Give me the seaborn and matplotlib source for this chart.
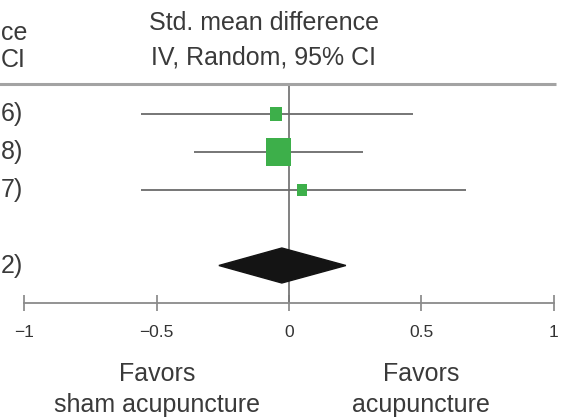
import matplotlib
matplotlib.use("Agg")
import matplotlib.pyplot as plt
import seaborn as sns
import pandas as pd

# Данные
study_tail = ["6)", "8)", "7)"]          # обрезанные подписи слева
smd = [-0.05, -0.04, 0.05]
ci_low = [-0.56, -0.36, -0.56]
ci_high = [0.47, 0.28, 0.67]
weight = [17.5, 70.0, 12.5]

total_tail = "2)"
total_smd = -0.027
total_low = -0.265
total_high = 0.215

tick_values = [-1, -0.5, 0, 0.5, 1]
tick_labels = ["\u22121", "\u22120.5", "0", "0.5", "1"]

# раскладка: ось y в пикселях сверху вниз
row_y = [114, 152, 190]
total_y = 265.5
axis_y = 303
header_y = 84

sns.set_theme(style="white")
plt.rcParams["font.family"] = ["Liberation Sans", "DejaVu Sans"]

fig = plt.figure(figsize=(5.63, 4.18), dpi=100)
ax = fig.add_axes([0, 0, 1, 1])
ax.set_xlim(-1.0926, 1.0359)
ax.set_ylim(418, 0)

df = pd.DataFrame({"smd": smd, "row": row_y, "weight": weight})

line_col = "#6b6b6b"
txt_col = "#3a3a3a"

# доверительные интервалы
ax.hlines(row_y, ci_low, ci_high, color=line_col, lw=1.3, zorder=2)

# линия нулевого эффекта
ax.plot([0, 0], [header_y, axis_y], color="#777777", lw=1.3, zorder=1)

# квадраты исследований
box = [(-0.42, -0.5), (0.42, -0.5), (0.42, 0.5), (-0.42, 0.5)]
k = 6.2
sns.scatterplot(data=df, x="smd", y="row", size="weight",
                sizes=(k * min(weight), k * max(weight)),
                size_norm=(min(weight), max(weight)),
                marker=box, color="#3daf4a", edgecolor="none",
                linewidth=0, legend=False, zorder=3, ax=ax)
ax.set_xlabel("")
ax.set_ylabel("")

# ромб суммарного эффекта
h = 17.5
ax.fill([total_low, total_smd, total_high, total_smd],
        [total_y, total_y - h, total_y, total_y + h],
        color="#141414", zorder=4)

# верхняя линия заголовка
ax.plot([-1.1, 1.01], [header_y, header_y], color="#a3a3a3", lw=2.2,
        solid_capstyle="butt", clip_on=False)

# ось x
for s in ["left", "right", "top"]:
    ax.spines[s].set_visible(False)
ax.spines["bottom"].set_position(("data", axis_y))
ax.spines["bottom"].set_bounds(-1, 1)
ax.spines["bottom"].set_color("#8a8a8a")
ax.spines["bottom"].set_linewidth(1.3)
ax.set_yticks([])
ax.set_xticks(tick_values)
ax.set_xticklabels(tick_labels)
ax.tick_params(axis="x", direction="inout", length=11.5, width=1.1,
               color="#7a7a7a", labelsize=12.5, labelcolor="#333333", pad=10,
               bottom=True)

# заголовок столбца
ax.text(-0.095, 23, "Std. mean difference", ha="center", va="center",
        fontsize=18, color=txt_col)
ax.text(-0.095, 58, "IV, Random, 95% CI", ha="center", va="center",
        fontsize=18, color=txt_col)

# обрезанный левый столбец
ax.text(-1.09, 33, "ce", ha="left", va="center", fontsize=18, color=txt_col)
ax.text(-1.09, 60, "CI", ha="left", va="center", fontsize=18, color=txt_col)
for y, t in zip(row_y + [total_y], study_tail + [total_tail]):
    ax.text(-1.09, y, t, ha="left", va="center", fontsize=18, color=txt_col)

# подписи направлений
ax.text(-0.5, 374, "Favors", ha="center", va="center", fontsize=18,
        color=txt_col)
ax.text(-0.5, 405, "sham acupuncture", ha="center", va="center", fontsize=18,
        color=txt_col)
ax.text(0.5, 374, "Favors", ha="center", va="center", fontsize=18,
        color=txt_col)
ax.text(0.5, 405, "acupuncture", ha="center", va="center", fontsize=18,
        color=txt_col)

fig.savefig("out.png", dpi=100)
